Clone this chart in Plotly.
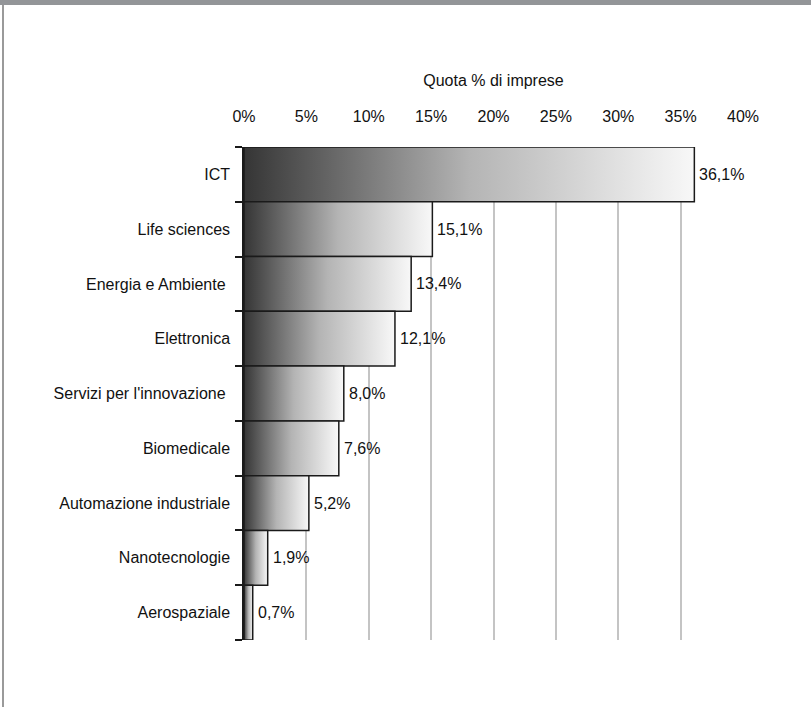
import plotly.graph_objects as go

categories = ["ICT", "Life sciences", "Energia e Ambiente ", "Elettronica",
              "Servizi per l'innovazione ", "Biomedicale", "Automazione industriale",
              "Nanotecnologie", "Aerospaziale"]
values = [36.1, 15.1, 13.4, 12.1, 8.0, 7.6, 5.2, 1.9, 0.7]
x_ticks = [0, 5, 10, 15, 20, 25, 30, 35, 40]

FONT = "Liberation Sans, Arial, sans-serif"
TXT = "#111111"
W, H = 811, 707
L, R, T, B = 244, 68, 147, 67
pw, ph = W - L - R, H - T - B

fig = go.Figure()
for i, (c, v) in enumerate(zip(categories, values)):
    fig.add_trace(go.Scatter(
        x=[0, v, v, 0, 0], y=[i - 0.5, i - 0.5, i + 0.5, i + 0.5, i - 0.5],
        mode="lines", fill="toself",
        fillgradient=dict(type="horizontal",
                          colorscale=[[0, "#353535"], [0.5, "#b4b4b4"], [1, "#f8f8f8"]]),
        line=dict(color="#1a1a1a", width=1.5),
        hoverinfo="skip", showlegend=False))

annotations = [
    dict(x=v, y=i, xref="x", yref="y", text=f"{v:.1f}%".replace(".", ","),
         showarrow=False, xanchor="left", yanchor="middle", xshift=3,
         font=dict(family=FONT, size=16, color=TXT))
    for i, v in enumerate(values)
]

shapes = [
    dict(type="rect", xref="paper", yref="paper", x0=-L / pw, x1=(W - L) / pw,
         y0=1 + (T - 5) / ph, y1=1 + T / ph, fillcolor="#939598", line_width=0, layer="above"),
    dict(type="line", xref="paper", yref="paper", x0=(3 - L) / pw, x1=(3 - L) / pw,
         y0=1 + (T - 5) / ph, y1=-B / ph, line=dict(color="#9a9a9a", width=2)),
]

fig.update_layout(
    width=W, height=H, margin=dict(l=L, r=R, t=T, b=B),
    paper_bgcolor="white", plot_bgcolor="white",
    font=dict(family=FONT, size=16, color=TXT),
    shapes=shapes, annotations=annotations,
    xaxis=dict(side="top", range=[0, 40], tickvals=x_ticks,
               ticktext=[f"{t}%" for t in x_ticks],
               showgrid=True, gridcolor="#c4c4c4", gridwidth=1.5,
               zeroline=False, showline=False, ticks="", ticklabelstandoff=21,
               tickfont=dict(family=FONT, size=16, color=TXT),
               title=dict(text="Quota % di imprese", standoff=17,
                          font=dict(family=FONT, size=16, color=TXT))),
    yaxis=dict(range=[len(values) - 0.5, -0.5], tickvals=list(range(len(values))),
               ticktext=categories, showgrid=False, zeroline=False,
               showline=True, linecolor="#1a1a1a", linewidth=1.5,
               ticks="", ticklabelstandoff=9,
               minor=dict(tick0=-0.5, dtick=1, ticks="outside", ticklen=7,
                          tickcolor="#1a1a1a", tickwidth=1.5, showgrid=False),
               tickfont=dict(family=FONT, size=16, color=TXT)),
)
fig.write_html("out.html")
